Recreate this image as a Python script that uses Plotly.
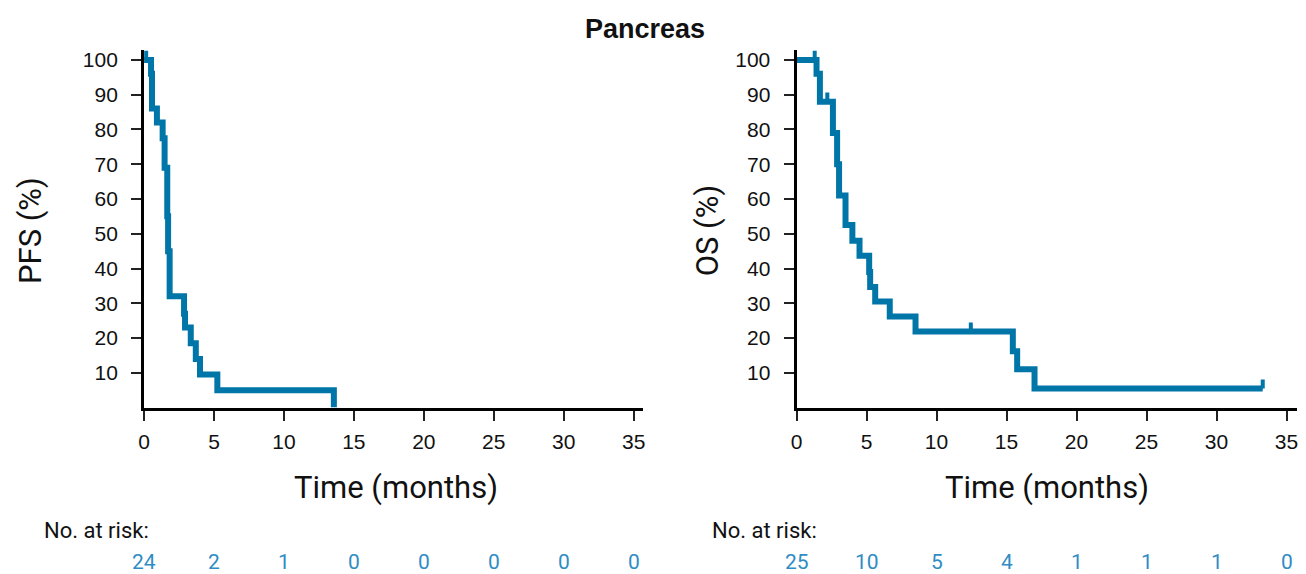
import plotly.graph_objects as go

# ---------------- data ----------------
pfs_time = [0, 0.5, 0.57, 0.92, 1.33, 1.47, 1.66, 1.72, 1.83, 2.86, 2.93, 3.34, 3.7, 4.0, 5.24, 13.57]
pfs_surv = [100, 96, 86, 82, 77.5, 69, 55, 45, 32, 27, 23, 18.5, 14, 9.5, 5, 0]
pfs_censor_time = [0.15]

os_time = [0, 1.43, 1.67, 2.6, 2.9, 3.04, 3.5, 3.99, 4.5, 5.19, 5.26, 5.62, 6.66, 8.5, 15.45, 15.76, 17.0, 33.3]
os_surv = [100, 96, 88, 79, 70, 61, 52.5, 48, 43.7, 39, 34.7, 30.5, 26.2, 21.9, 16.2, 11, 5.5, 5.5]
os_censor_time = [1.3, 2.2, 12.45, 33.3]

risk_times = [0, 5, 10, 15, 20, 25, 30, 35]
pfs_at_risk = [24, 2, 1, 0, 0, 0, 0, 0]
os_at_risk = [25, 10, 5, 4, 1, 1, 1, 0]

y_ticks = [10, 20, 30, 40, 50, 60, 70, 80, 90, 100]
x_ticks = [0, 5, 10, 15, 20, 25, 30, 35]

LINE = "#0075A8"
RISK = "#2F8CC4"
TICKFONT = dict(family="Liberation Sans, Arial", size=21, color="#111111")
TITLEFONT = dict(family="Roboto", size=31, color="#111111")


def step_value(times, surv, t):
    v = surv[0]
    for ti, si in zip(times, surv):
        if ti <= t:
            v = si
    return v


def censor_xy(times, surv, ctimes, h=2.6):
    xs, ys = [], []
    for t in ctimes:
        v = step_value(times, surv, t)
        xs += [t, t, None]
        ys += [v, v + h, None]
    return xs, ys


fig = go.Figure()

fig.add_trace(go.Scatter(x=pfs_time, y=pfs_surv, mode="lines", line=dict(shape="hv", color=LINE, width=6),
                         xaxis="x", yaxis="y", showlegend=False))
cx, cy = censor_xy(pfs_time, pfs_surv, pfs_censor_time)
fig.add_trace(go.Scatter(x=cx, y=cy, mode="lines", line=dict(color=LINE, width=4),
                         xaxis="x", yaxis="y", showlegend=False))

fig.add_trace(go.Scatter(x=os_time, y=os_surv, mode="lines", line=dict(shape="hv", color=LINE, width=6),
                         xaxis="x2", yaxis="y2", showlegend=False))
cx, cy = censor_xy(os_time, os_surv, os_censor_time)
fig.add_trace(go.Scatter(x=cx, y=cy, mode="lines", line=dict(color=LINE, width=4),
                         xaxis="x2", yaxis="y2", showlegend=False))

W, H = 1306, 574
ydom = [1 - 407 / H, 1 - 48 / H]

axis_common = dict(showline=True, linecolor="black", linewidth=3, ticks="outside", ticklen=10,
                   tickwidth=2, tickcolor="#222", showgrid=False, zeroline=False, tickfont=TICKFONT)

fig.update_layout(
    width=W, height=H,
    margin=dict(l=0, r=0, t=0, b=0),
    paper_bgcolor="white", plot_bgcolor="white",
    xaxis=dict(domain=[139 / W, 641 / W], range=[0, 35.64], tickvals=x_ticks, anchor="y",
               ticklabelstandoff=3, **axis_common),
    yaxis=dict(domain=ydom, range=[0, 102.9], tickvals=y_ticks, anchor="x",
               ticklabelstandoff=9, **axis_common),
    xaxis2=dict(domain=[796 / W, 1300 / W], range=[0, 35.75], tickvals=x_ticks, anchor="y2",
                ticklabelstandoff=3, **axis_common),
    yaxis2=dict(domain=ydom, range=[0, 102.9], tickvals=y_ticks, anchor="x2",
                ticklabelstandoff=9, **axis_common),
)

ann = []
ann.append(dict(text="<b>Pancreas</b>", x=643 / W, y=1 - 27 / H, xref="paper", yref="paper",
                showarrow=False, font=dict(family="Liberation Sans, Arial", size=27, color="#111"),
                xanchor="center", yanchor="middle"))
ann.append(dict(text="PFS (%)", x=24 / W, y=1 - 229 / H, xref="paper", yref="paper", textangle=-90,
                showarrow=False, font=TITLEFONT, xanchor="center", yanchor="middle"))
ann.append(dict(text="OS (%)", x=706 / W, y=1 - 229 / H, xref="paper", yref="paper", textangle=-90,
                showarrow=False, font=TITLEFONT, xanchor="center", yanchor="middle"))
ann.append(dict(text="Time (months)", x=393 / W, y=1 - 487 / H, xref="paper", yref="paper",
                showarrow=False, font=TITLEFONT, xanchor="center", yanchor="middle"))
ann.append(dict(text="Time (months)", x=1048 / W, y=1 - 487 / H, xref="paper", yref="paper",
                showarrow=False, font=TITLEFONT, xanchor="center", yanchor="middle"))
for xpos in (36, 709):
    ann.append(dict(text="No. at risk:", x=xpos / W, y=1 - 530 / H, xref="paper", yref="paper",
                    showarrow=False, font=dict(family="Roboto", size=22, color="#111"),
                    xanchor="left", yanchor="middle"))
for t, n in zip(risk_times, pfs_at_risk):
    ann.append(dict(text=str(n), x=t, y=1 - 562 / H, xref="x", yref="paper", showarrow=False,
                    font=dict(family="Roboto", size=21, color=RISK), xanchor="center", yanchor="middle"))
for t, n in zip(risk_times, os_at_risk):
    ann.append(dict(text=str(n), x=t, y=1 - 562 / H, xref="x2", yref="paper", showarrow=False,
                    font=dict(family="Roboto", size=21, color=RISK), xanchor="center", yanchor="middle"))
fig.update_layout(annotations=ann)

fig.write_html("out.html", config={"displayModeBar": False},
               post_script="document.body.style.margin='0';document.body.style.overflow='hidden';")
